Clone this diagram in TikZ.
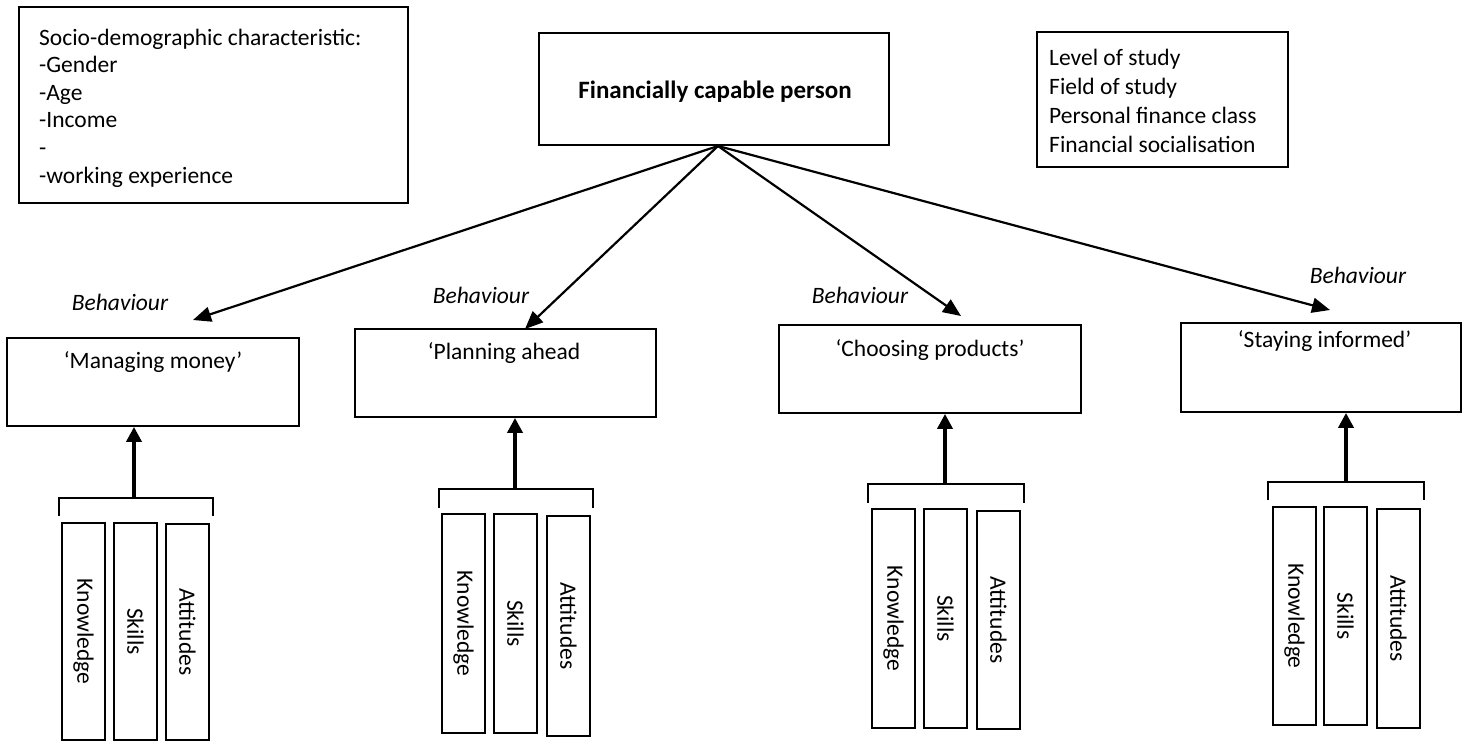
\documentclass[tikz,border=0pt]{standalone}
\usepackage{fontspec}
\setmainfont{Carlito}
\usetikzlibrary{arrows.meta}
\newcommand\fsz{\fontsize{23.5}{27.6}\selectfont}
\begin{document}
\begin{tikzpicture}[x=1pt,y=-1pt,
  txt/.style={font=\fsz, inner sep=0pt},
  frame/.style={draw, line width=1.8pt, inner sep=0pt},
  col/.style={draw, line width=1.6pt, inner sep=0pt, font=\fsz},
  diag/.style={line width=2.2pt, -{Triangle[length=18pt,width=15pt]}},
  uparr/.style={line width=3.8pt, -{Triangle[length=15pt,width=15pt]}},
  brk/.style={line width=1.9pt},
]
\useasboundingbox (0,0) rectangle (1466,742);

% top boxes
\node[frame, minimum width=389pt, minimum height=196pt] (socio) at (213.5,105) {};
\node[txt, anchor=north west, align=left] (sociotxt) at (39,28.5)
  {Socio-demographic characteristic:\\-Gender\\-Age\\-Income\\-\\-working experience};

\node[frame, minimum width=350pt, minimum height=112pt] (fcp) at (714,89) {};
\node[txt, font=\fontsize{25}{29}\selectfont\bfseries, anchor=base] (fcptxt) at (715,98) {Financially capable person};

\node[frame, minimum width=251pt, minimum height=135pt] (study) at (1162.5,99.5) {};
\node[txt, font=\fontsize{23.5}{29}\selectfont, anchor=north west, align=left] (studytxt) at (1049,48.5)
  {Level of study\\Field of study\\Personal finance class\\Financial socialisation};

% behaviour boxes
\node[frame, minimum width=292pt, minimum height=88pt] (mm) at (153,382) {};
\node[txt, anchor=base] (mmtxt) at (153,368) {‘Managing money’};
\node[frame, minimum width=301pt, minimum height=88pt] (plan) at (505.5,373) {};
\node[txt, anchor=base] (plantxt) at (504,359) {‘Planning ahead};
\node[frame, minimum width=302pt, minimum height=88pt] (choose) at (930,369) {};
\node[txt, anchor=base] (choosetxt) at (930,356) {‘Choosing products’};
\node[frame, minimum width=280pt, minimum height=89pt] (stay) at (1321,367.5) {};
\node[txt, anchor=base] (staytxt) at (1324.5,347) {‘Staying informed’};

% behaviour labels
\node[txt, font=\fsz\itshape, anchor=base] (beh1) at (120,310) {Behaviour};
\node[txt, font=\fsz\itshape, anchor=base] (beh2) at (481,303) {Behaviour};
\node[txt, font=\fsz\itshape, anchor=base] (beh3) at (860,303) {Behaviour};
\node[txt, font=\fsz\itshape, anchor=base] (beh4) at (1358,283) {Behaviour};

% diagonal arrows
\coordinate (apex) at (718,146);
\coordinate (t1) at (193,320);
\coordinate (t2) at (525,329);
\coordinate (t3) at (961,316);
\coordinate (t4) at (1330,310);
\foreach \t in {t1,t2,t3,t4} \draw[diag] (apex) -- (\t);

% groups of knowledge / skills / attitudes
\foreach \gi/\bx/\ax/\bl/\br/\bt/\bb/\kl/\sl/\al/\kt/\st/\at/\kb/\sb/\ab in {
 1/mm/134/59/213/498/516/62/114/166/523/523/524/740/740/740,
 2/plan/515/439/593/489/508/442/494/547/514/514/516/733/733/736,
 3/choose/945/868/1024/484/503/872/924/977/509/509/511/728/728/729,
 4/stay/1346/1268/1424/482/500/1273/1324/1377/507/507/509/725/725/728}
{
  \draw[brk] (\bl,\bb) -- (\bl,\bt) -- (\br,\bt) -- (\br,\bb);
  \coordinate (br\gi) at (\ax,\bt);
  \draw[uparr] (br\gi) -- (br\gi |- \bx.south);
  \node[col, rotate=-90, minimum width={(\kb-\kt)*1pt}, minimum height=43pt] (k\gi) at ({\kl+21.5},{(\kt+\kb)/2}) {Knowledge};
  \node[col, rotate=-90, minimum width={(\sb-\st)*1pt}, minimum height=43pt] (s\gi) at ({\sl+21.5},{(\st+\sb)/2}) {Skills};
  \node[col, rotate=-90, minimum width={(\ab-\at)*1pt}, minimum height=43pt] (a\gi) at ({\al+21.5},{(\at+\ab)/2}) {Attitudes};
}
\end{tikzpicture}
\end{document}
